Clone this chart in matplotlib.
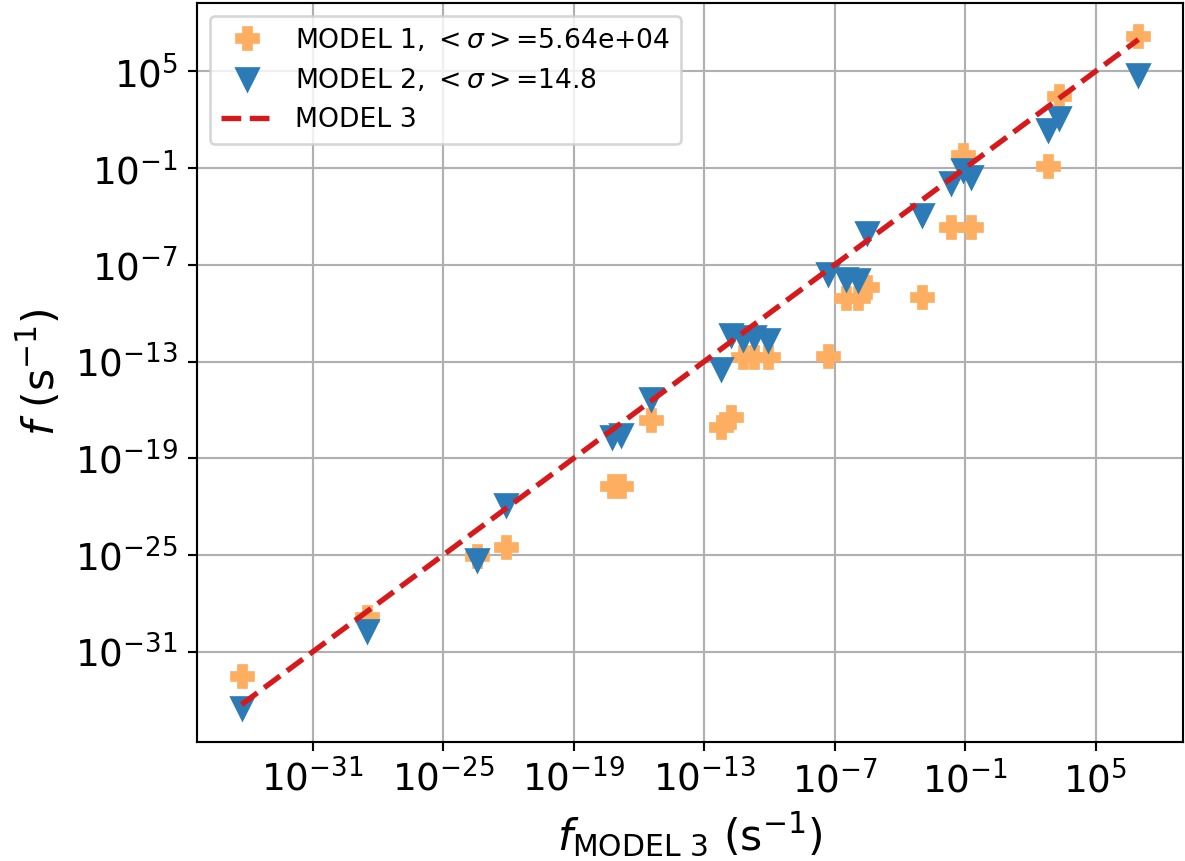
import numpy as np
import matplotlib
matplotlib.use("Agg")
import matplotlib.pyplot as plt
from matplotlib.ticker import FixedLocator, NullLocator, LogFormatterSciNotation

# log10 of rates (s^-1)
log_f_model3 = [-34.27, -28.48, -23.44, -22.09, -17.23, -16.81, -15.43, -12.22,
                -11.76, -11.23, -10.69, -10.06, -7.30, -6.46, -5.91, -5.50,
                -2.96, -1.65, -1.12, -0.75, 2.79, 3.32, 6.97]
log_f_model1 = [-32.48, -28.81, -25.05, -24.47, -20.71, -20.71, -16.62, -17.04,
                -16.42, -12.70, -12.70, -12.70, -12.66, -9.06, -9.06, -8.35,
                -8.98, -4.63, -0.22, -4.63, -0.89, 3.45, 7.17]
log_f_model2 = [-34.49, -29.72, -25.28, -21.91, -17.70, -17.53, -15.32, -13.44,
                -11.33, -11.62, -11.50, -11.69, -7.58, -7.89, -7.95, -5.02,
                -3.94, -1.93, -1.13, -1.57, 1.34, 2.11, 4.80]
sigma_model1 = 5.64e+04
sigma_model2 = 14.8
tick_exponents = [-31, -25, -19, -13, -7, -1, 5]

f3 = 10.0 ** np.array(log_f_model3)
f1 = 10.0 ** np.array(log_f_model1)
f2 = 10.0 ** np.array(log_f_model2)

DPI = 192
fig = plt.figure(figsize=(1185 / DPI, 861 / DPI), dpi=DPI)
ax = fig.add_axes([196.7 / 1185, 1 - 741.7 / 861, (1183.3 - 196.7) / 1185, (741.7 - 2.7) / 861])

ax.plot(f3, f1, linestyle="none", marker="P", ms=8.3, color="#fdae61",
        label=r"MODEL 1, $<\sigma>$=" + f"{sigma_model1:.3g}")
ax.plot(f3, f2, linestyle="none", marker="v", ms=8.3, color="#2c7bb6",
        label=r"MODEL 2, $<\sigma>$=" + f"{sigma_model2:.3g}")
line_x = np.sort(f3)
ax.plot(line_x, line_x, linestyle="--", lw=2, color="#d7191c", label="MODEL 3")

ax.set_xscale("log")
ax.set_yscale("log")
ticks = [10.0 ** e for e in tick_exponents]
for axis in (ax.xaxis, ax.yaxis):
    axis.set_major_locator(FixedLocator(ticks))
    axis.set_minor_locator(NullLocator())
    axis.set_major_formatter(LogFormatterSciNotation())
ax.tick_params(labelsize=14)
ax.grid(True, which="major", color="#b0b0b0", lw=0.8)

ax.set_xlabel(r"$f_{\mathrm{MODEL\ 3}}$ (s$^{-1}$)", fontsize=16)
ax.set_ylabel(r"$f$ (s$^{-1}$)", fontsize=16)
ax.legend(loc="upper left", fontsize=10)

fig.savefig("out.png", dpi=DPI)
